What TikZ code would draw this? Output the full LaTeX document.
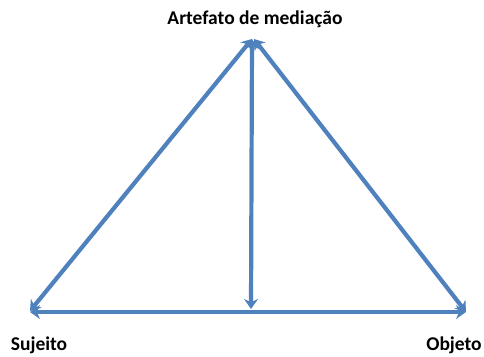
\documentclass[tikz,border=0pt]{standalone}
\usepackage{fontspec}
\setmainfont{Carlito}
\usetikzlibrary{arrows.meta}
\definecolor{lineblue}{HTML}{4F81BD}
\tikzset{
  conn/.style={draw=lineblue,line width=4.2pt,{Stealth[length=10pt,width=14pt]}-{Stealth[length=10pt,width=14pt]}},
  lbl/.style={font=\fontsize{19.5}{22}\selectfont\bfseries,text=black,inner sep=0pt}
}
\begin{document}
\begin{tikzpicture}[x=1pt,y=-1pt]
\useasboundingbox (0,0) rectangle (484,356);
\coordinate (apexL) at (252,39);
\coordinate (apexR) at (254,39);
\coordinate (apexV) at (252,39);
\coordinate (bl) at (30,311);
\coordinate (br) at (466,312);
\coordinate (hl) at (30,312);
\coordinate (hr) at (466,312);
\coordinate (vb) at (251,309);
\node[lbl] (art) at (255,19) {Artefato de mediação};
\node[lbl] (suj) at (39,345) {Sujeito};
\node[lbl] (obj) at (454,345) {Objeto};
\draw[conn] (hl) -- (hr);
\draw[conn] (bl) -- (apexL);
\draw[conn] (br) -- (apexR);
\draw[conn] (apexV) -- (vb);
\end{tikzpicture}
\end{document}
